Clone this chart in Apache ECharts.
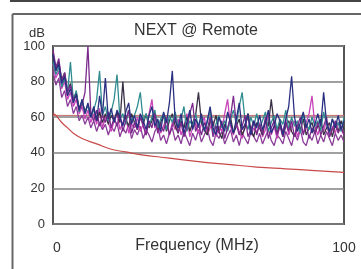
<!DOCTYPE html>
<html>
<head>
<meta charset="utf-8">
<script src="https://cdn.jsdelivr.net/npm/echarts@6/dist/echarts.min.js"></script>
<style>
html,body{margin:0;padding:0;background:#fff;}
#c{width:361px;height:269px;}
</style>
</head>
<body>
<div id="c"></div>
<script>
var title = 'NEXT @ Remote';
var yUnit = 'dB';
var xName = 'Frequency (MHz)';
var yTicks = [0, 20, 40, 60, 80, 100];
var xTicks = [0, 100];

var freq = [0,1,2,3,4,5,6,7,8,9,10,11,12,13,14,15,16,17,18,19,20,21,22,23,24,25,26,27,28,29,30,31,32,33,34,35,36,37,38,39,40,41,42,43,44,45,46,47,48,49,50,51,52,53,54,55,56,57,58,59,60,61,62,63,64,65,66,67,68,69,70,71,72,73,74,75,76,77,78,79,80,81,82,83,84,85,86,87,88,89,90,91,92,93,94,95,96,97,98,99,100];

var pairNavy = [95,86,90,79,83,72,76,68,73,64,70,
  62,68,60,66,58,72,61,82,59,65,
  57,64,60,55,63,68,56,61,54,62,
  58,53,61,66,55,59,52,63,57,68,
  86,58,54,62,51,57,64,53,59,55,
  62,52,58,66,54,50,60,56,52,63,
  57,51,59,68,53,56,62,50,58,54,
  61,53,57,64,51,55,62,58,50,59,
  66,83,60,52,57,63,54,59,51,56,
  62,55,74,57,52,59,54,61,53,58];

var pairPurple = [98,88,93,80,85,74,78,70,72,64,67,
  74,100,62,58,64,55,61,57,63,54,
  60,55,62,52,58,64,51,57,53,60,
  55,50,58,54,62,51,56,52,59,50,
  55,60,51,57,49,54,62,68,52,56,
  50,57,53,60,49,55,51,58,48,54,
  60,72,56,50,55,61,49,53,58,50,
  56,51,60,48,54,58,50,55,49,57,
  52,58,49,55,60,50,56,48,54,51,
  57,50,55,60,49,53,58,51,55,50];

var pairTeal = [91,84,88,77,82,74,91,69,75,63,70,
  62,67,60,64,70,86,61,66,58,63,
  70,84,59,62,56,64,58,61,66,74,
  58,62,55,60,64,54,59,62,53,61,
  57,63,54,59,66,52,58,55,62,54,
  60,53,57,64,51,56,61,54,58,52,
  59,64,56,66,74,58,53,60,55,62,
  54,58,63,52,57,61,53,59,56,64,
  53,60,55,58,51,62,56,53,60,55,
  58,52,63,56,51,59,54,57,52,60];

var pairMagenta = [90,82,86,76,80,70,74,66,70,62,66,
  59,64,57,62,56,65,54,60,57,52,
  58,62,53,57,61,51,56,54,60,52,
  56,50,62,70,54,58,51,55,60,50,
  57,53,59,50,55,62,49,54,57,51,
  56,60,50,54,58,49,55,52,62,70,
  55,50,57,52,48,56,60,50,54,51,
  57,49,53,62,50,55,48,56,52,59,
  50,55,58,49,54,51,57,62,72,55,
  50,56,52,58,49,55,51,57,53,50];

var pairDark = [96,87,91,81,85,75,79,70,74,65,69,
  63,67,60,65,58,63,57,62,56,61,
  58,63,57,80,59,55,62,57,53,60,
  56,62,54,58,63,53,57,61,52,58,
  62,55,51,58,54,60,52,57,61,74,
  57,53,50,58,55,61,52,48,56,53,
  60,51,55,59,50,54,62,53,49,57,
  54,50,58,55,70,56,51,57,49,55,
  58,52,49,56,53,59,50,54,57,51,
  55,59,50,54,57,49,56,52,58,53];

var pairLow = [86,78,82,71,75,66,70,62,66,58,61,
  56,60,54,58,52,57,53,56,50,55,
  52,57,49,54,51,56,48,53,50,55,
  48,53,50,46,52,55,47,50,45,51,
  54,47,50,45,52,48,44,51,47,53,
  46,50,54,47,44,51,48,52,45,49,
  53,46,50,44,51,48,45,52,49,46,
  51,45,49,53,47,44,50,48,45,52,
  48,44,51,47,53,46,44,50,47,52,
  45,50,46,52,48,44,51,47,50,46];

var limitFreq = [0,1,2,3,5,7,10,15,20,25,30,40,50,60,70,80,90,100];
var limitVals = [62,61,59,57,54,51,48,45,42,40.5,39,37,35,33.5,32,31,30,29];
var flatLimitFreq = [0,100];
var flatLimitVals = [61,61];

function zip(xs, ys){ var o=[]; for(var i=0;i<ys.length;i++){o.push([xs[i],ys[i]]);} return o; }

var traces = [
  {name:'low', data:pairLow, color:'#8a3c98'},
  {name:'magenta', data:pairMagenta, color:'#c844b8'},
  {name:'dark', data:pairDark, color:'#3a3045'},
  {name:'teal', data:pairTeal, color:'#2f8c90'},
  {name:'purple', data:pairPurple, color:'#7b2a8c'},
  {name:'navy', data:pairNavy, color:'#2a2f82'}
];

var series = [];
series.push({type:'line', data:zip(flatLimitFreq, flatLimitVals), symbol:'none', silent:true,
  lineStyle:{color:'#c86a6a', width:1}, z:1});
traces.forEach(function(t){
  series.push({type:'line', name:t.name, data:zip(freq, t.data), symbol:'none',
    lineStyle:{color:t.color, width:1.3}, z:2});
});
series.push({type:'line', data:zip(limitFreq, limitVals), symbol:'none', smooth:true,
  lineStyle:{color:'#c84848', width:1.2}, z:3});

var chart = echarts.init(document.getElementById('c'), null, {renderer:'canvas'});
var font = 'Liberation Sans, Arial, sans-serif';
chart.setOption({
  animation:false,
  backgroundColor:'#fff',
  grid:{left:53, top:46, right:17, bottom:45, show:true, borderColor:'#555', borderWidth:2, backgroundColor:'transparent'},
  xAxis:{type:'value', min:xTicks[0], max:xTicks[xTicks.length-1], interval:100,
    axisLine:{show:false}, axisTick:{show:false}, splitLine:{show:false},
    axisLabel:{margin:17, fontSize:14, color:'#333', fontFamily:font, alignMinLabel:'left'}},
  yAxis:{type:'value', min:yTicks[0], max:yTicks[yTicks.length-1], interval:20,
    axisLine:{show:false}, axisTick:{show:false},
    splitLine:{show:true, lineStyle:{color:'#808080', width:1.5}},
    axisLabel:{margin:8, fontSize:13, color:'#333', fontFamily:font}},
  graphic:[
    {type:'line', shape:{x1:10, y1:1, x2:361, y2:1}, style:{stroke:'#444', lineWidth:2}},
    {type:'line', shape:{x1:12.5, y1:14, x2:361, y2:14}, style:{stroke:'#666', lineWidth:2}},
    {type:'line', shape:{x1:12.5, y1:14, x2:12.5, y2:269}, style:{stroke:'#666', lineWidth:2}},
    {type:'text', style:{text:title, x:196, y:31, fill:'#333', font:'16px '+font, textAlign:'center', textVerticalAlign:'middle'}},
    {type:'text', style:{text:yUnit, x:45, y:33, fill:'#333', font:'13px '+font, textAlign:'right', textVerticalAlign:'middle'}},
    {type:'text', style:{text:xName, x:197, y:246, fill:'#333', font:'16px '+font, textAlign:'center', textVerticalAlign:'middle'}}
  ],
  series:series
});
</script>
</body>
</html>
